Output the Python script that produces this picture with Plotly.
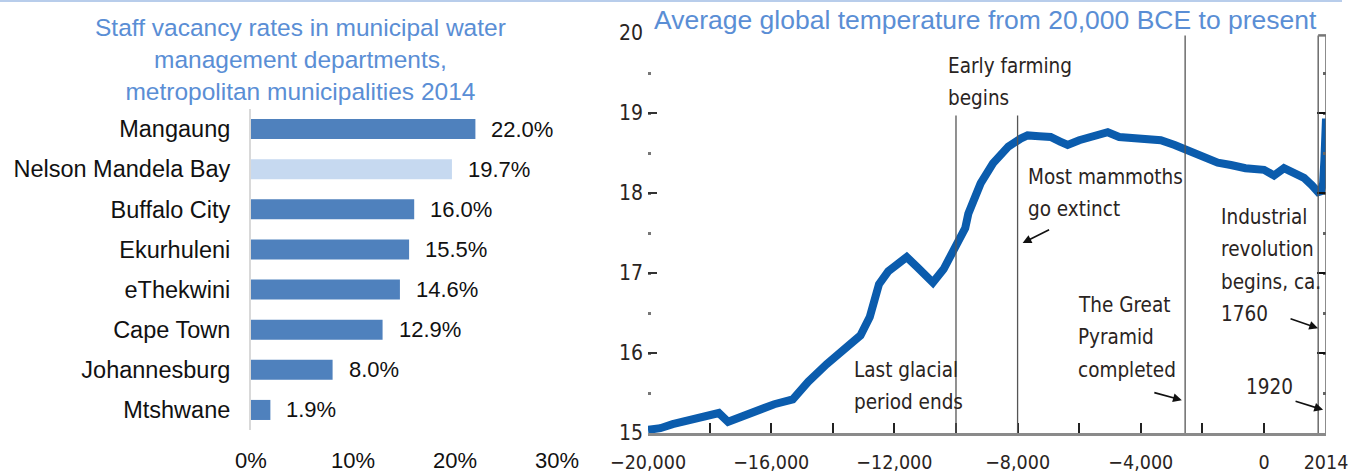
import plotly.graph_objects as go

# ---- Staff vacancy rates (left panel) ----
municipalities = ["Mangaung", "Nelson Mandela Bay", "Buffalo City", "Ekurhuleni",
                  "eThekwini", "Cape Town", "Johannesburg", "Mtshwane"]
vacancy_pct = [22.0, 19.7, 16.0, 15.5, 14.6, 12.9, 8.0, 1.9]
highlighted = "Nelson Mandela Bay"
pct_ticks = [0, 10, 20, 30]

# ---- Average global temperature (right panel) ----
years = [-20000, -19600, -19200, -18600, -18100, -17700, -17400, -17000, -16500,
         -15900, -15300, -14800, -14200, -13600, -13100, -12800, -12650, -12500,
         -12200, -11900, -11600, -11250, -10750, -10400, -10000, -9700, -9600,
         -9400, -9200, -8800, -8300, -7900, -7675, -7300, -6927, -6600, -6374,
         -6000, -5724, -5400, -5073, -4700, -4423, -4000, -3350, -2900, -2472,
         -2000, -1500, -1073, -600, 0, 325, 650, 900, 1300, 1550, 1760, 1850,
         1920, 1960, 1990, 2014]
temps_c = [15.04, 15.06, 15.11, 15.16, 15.20, 15.25, 15.14, 15.20, 15.28,
           15.36, 15.42, 15.64, 15.86, 16.05, 16.22, 16.45, 16.70, 16.86,
           17.02, 17.12, 17.20, 17.07, 16.88, 17.05, 17.32, 17.56, 17.74,
           17.95, 18.12, 18.37, 18.58, 18.68, 18.72, 18.71, 18.70, 18.64, 18.60,
           18.66, 18.69, 18.71, 18.76, 18.70, 18.69, 18.68, 18.66, 18.60, 18.54,
           18.46, 18.38, 18.35, 18.31, 18.29, 18.22, 18.31, 18.27, 18.19, 18.10,
           18.01, 18.02, 18.12, 18.40, 18.70, 18.93]
year_ticks = [-20000, -18000, -16000, -14000, -12000, -10000, -8000, -6000,
              -4000, -2000, 0, 2014]
year_tick_text = ["\u221220,000", "", "\u221216,000", "", "\u221212,000", "",
                  "\u22128,000", "", "\u22124,000", "", "0", "2014"]
temp_ticks = [15, 16, 17, 18, 19, 20]

# event marker lines: year and top of the line in degrees C
event_years = [-10000, -8000, -2560, 1760]
event_tops = [18.97, 18.97, 19.97, 19.97]

BLUE_TITLE = "#5A8ED5"
BAR_BLUE = "#4F81BD"
BAR_LIGHT = "#C6D9F0"
CURVE = "#0B5CAD"
NOTE = "#2A2422"
ARIAL = "Arial, Liberation Sans, sans-serif"
NARROW = "Liberation Sans Narrow, Arial Narrow, DejaVu Sans Condensed, sans-serif"

fig = go.Figure()

fig.add_trace(go.Bar(
    x=vacancy_pct, y=municipalities, orientation="h",
    marker=dict(color=[BAR_LIGHT if m == highlighted else BAR_BLUE for m in municipalities],
                line=dict(width=0)),
    xaxis="x", yaxis="y", hoverinfo="skip", showlegend=False,
))

fig.add_trace(go.Scatter(
    x=years, y=temps_c, mode="lines",
    line=dict(color=CURVE, width=8),
    xaxis="x2", yaxis="y2", hoverinfo="skip", showlegend=False,
))
# invisible trace so the right-hand tick axis is drawn
fig.add_trace(go.Scatter(x=[years[-1]], y=[temps_c[-1]], mode="markers",
                         marker=dict(opacity=0), xaxis="x2", yaxis="y3",
                         hoverinfo="skip", showlegend=False))

W, H = 1360, 474
x_dom = [251 / W, 557 / W]
y_dom = [1 - 430 / H, 1 - 109 / H]
x2_dom = [648 / W, 1326 / W]
y2_dom = [1 - 433 / H, 1 - 33 / H]

fig.update_layout(
    width=W, height=H,
    margin=dict(l=0, r=0, t=0, b=0, autoexpand=False),
    paper_bgcolor="white", plot_bgcolor="rgba(0,0,0,0)",
    bargap=0.5,
    xaxis=dict(domain=x_dom, range=[0, 30], tickvals=pct_ticks,
               ticktext=[f"{v}%" for v in pct_ticks], showgrid=False,
               zeroline=False, showline=False, ticks="", automargin=False,
               tickfont=dict(family=ARIAL, size=22, color="#111"),
               ticklabelstandoff=15, anchor="y", fixedrange=True),
    yaxis=dict(domain=y_dom, autorange="reversed", categoryorder="array",
               categoryarray=municipalities, showgrid=False, zeroline=False,
               showline=True, linecolor="#D9D9D9", linewidth=2, ticks="",
               automargin=False,
               tickfont=dict(family=ARIAL, size=23.5, color="#111"),
               ticklabelstandoff=14, anchor="x", fixedrange=True),
    xaxis2=dict(domain=x2_dom, range=[-20000, 2014], tickvals=year_ticks,
                ticktext=year_tick_text, showgrid=False, zeroline=False,
                showline=True, linecolor="#8A8A8A", linewidth=2.5,
                ticks="inside", ticklen=10, tickwidth=2, tickcolor="#222",
                automargin=False,
                tickfont=dict(family=NARROW, size=19.5, color=NOTE),
                ticklabelstandoff=10, anchor="y2", fixedrange=True),
    yaxis2=dict(domain=y2_dom, range=[15, 20], tickvals=temp_ticks,
                showgrid=False, zeroline=False, showline=False,
                ticks="inside", ticklen=9, tickwidth=2, tickcolor="#333",
                minor=dict(dtick=0.5, ticks="inside", ticklen=3, tickwidth=3,
                           tickcolor="#777"),
                automargin=False,
                tickfont=dict(family=NARROW, size=21, color=NOTE),
                ticklabelstandoff=4, anchor="x2", fixedrange=True),
    yaxis3=dict(overlaying="y2", side="right", anchor="x2", range=[15, 20],
                tickvals=temp_ticks, showgrid=False, zeroline=False,
                showline=False, showticklabels=False, automargin=False,
                ticks="inside", ticklen=9, tickwidth=2, tickcolor="#111",
                minor=dict(dtick=0.5, ticks="inside", ticklen=3, tickwidth=3,
                           tickcolor="#666"),
                fixedrange=True),
)

shapes = []
# thin rule along the top of the page
shapes.append(dict(type="line", xref="paper", yref="paper", x0=0, x1=1342 / W,
                   y0=1 - 1 / H, y1=1 - 1 / H, line=dict(color="#B8CDEB", width=2)))
# event marker lines
for yr, top in zip(event_years, event_tops):
    shapes.append(dict(type="line", xref="x2", yref="y2", x0=yr, x1=yr,
                       y0=15, y1=top, line=dict(color="#555", width=1.3)))
# right-hand frame of the recent-period strip
shapes.append(dict(type="line", xref="x2", yref="y2", x0=2014, x1=2014,
                   y0=15, y1=19.97, line=dict(color="#666", width=1.5)))
shapes.append(dict(type="line", xref="x2", yref="y2", x0=event_years[-1], x1=2014,
                   y0=19.97, y1=19.97, line=dict(color="#777", width=2.5)))
fig.update_layout(shapes=shapes)

ann = []
# panel titles
ann.append(dict(xref="paper", yref="paper", x=300 / W, y=1 - 59 / H,
                text="Staff vacancy rates in municipal water<br>management departments,"
                     "<br>metropolitan municipalities 2014",
                showarrow=False, xanchor="center", yanchor="middle", align="center",
                font=dict(family=ARIAL, size=24.5, color=BLUE_TITLE)))
ann.append(dict(xref="paper", yref="paper", x=985 / W, y=1 - 20 / H,
                text="Average global temperature from 20,000 BCE to present",
                showarrow=False, xanchor="center", yanchor="middle",
                font=dict(family=ARIAL, size=26.5, color=BLUE_TITLE)))
# bar value labels
for m, v in zip(municipalities, vacancy_pct):
    ann.append(dict(xref="x", yref="y", x=v, y=m, text=f"{v:.1f}%",
                    showarrow=False, xanchor="left", yanchor="middle", xshift=14,
                    font=dict(family=ARIAL, size=22, color="#111")))

# event notes: lines, left edge (year), first-line height (deg C)
LINE_STEP = 0.405
notes = [
    (["Early farming", "begins"], -10340, 19.59),
    (["Most mammoths", "go extinct"], -7740, 18.20),
    (["Industrial", "revolution", "begins, ca.", "1760"], -1463, 17.70),
    (["The Great", "Pyramid", "completed"], -6114, 16.60),
    (["1920"], -650, 15.575),
    (["Last glacial", "period ends"], -13366, 15.79),
]
for lines, xv, yv in notes:
    for i, line in enumerate(lines):
        ann.append(dict(xref="x2", yref="y2", x=xv, y=yv - i * LINE_STEP, text=line,
                        showarrow=False, xanchor="left", yanchor="middle",
                        font=dict(family=NARROW, size=20.5, color=NOTE)))

# pointer arrows (head at the event, tail offset in pixels)
arrows = [(-7837, 17.375, 28, -14), (-2667, 15.41, -29, -8),
          (1756, 16.31, -29, -10), (1919, 15.29, -29, -9)]
for xv, yv, ax, ay in arrows:
    ann.append(dict(xref="x2", yref="y2", x=xv, y=yv, ax=ax, ay=ay,
                    showarrow=True, arrowhead=2, arrowsize=1.1, arrowwidth=1.6,
                    arrowcolor="#111", text=""))

fig.update_layout(annotations=ann)

fig.write_html("out.html")
